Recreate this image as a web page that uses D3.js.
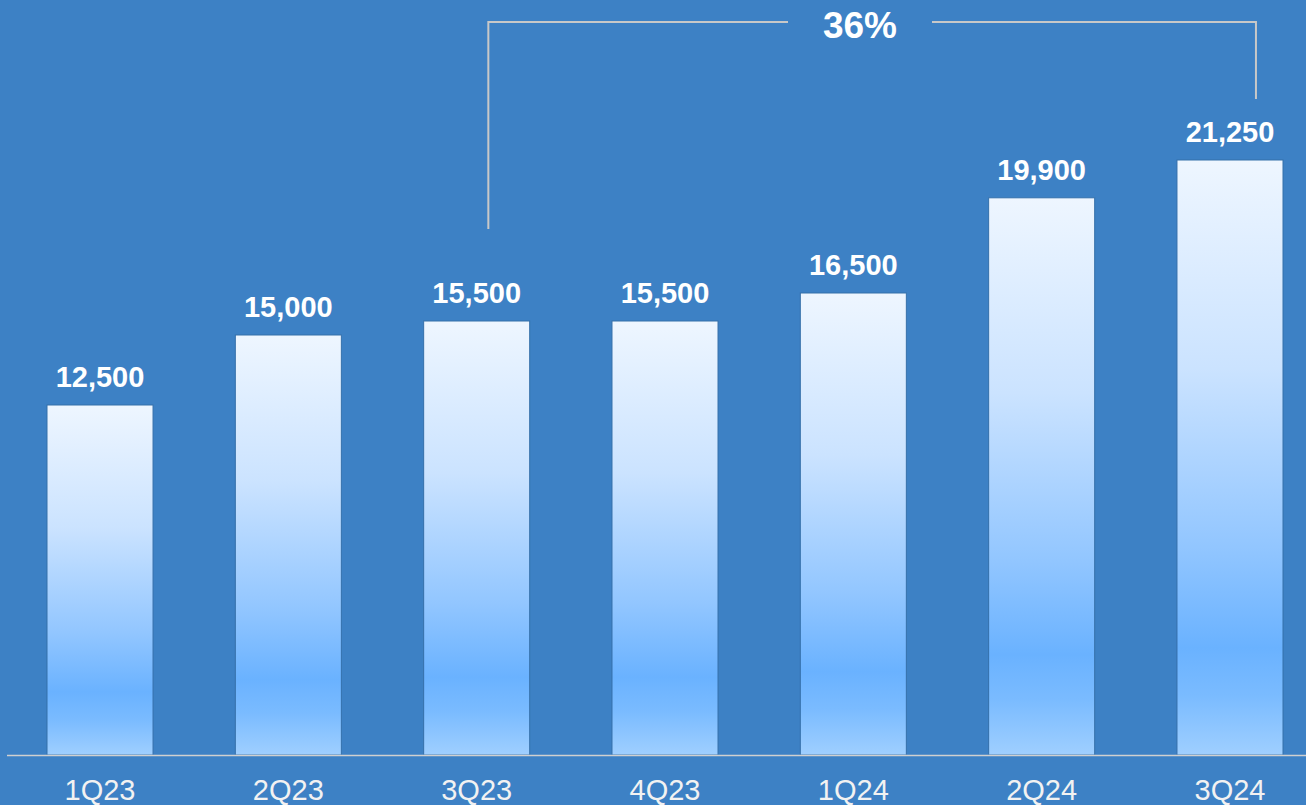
<!DOCTYPE html>
<html>
<head>
<meta charset="utf-8">
<script src="https://cdn.jsdelivr.net/npm/d3@7"></script>
<style>
  html, body { margin: 0; padding: 0; background: #3D81C5; }
  svg { display: block; }
</style>
</head>
<body>
<svg id="chart" width="1306" height="805"></svg>
<script>
// Quarterly values
const quarters = ["1Q23", "2Q23", "3Q23", "4Q23", "1Q24", "2Q24", "3Q24"];
const values = [12500, 15000, 15500, 15500, 16500, 19900, 21250];
const growthLabel = "36%";
const growthFrom = "3Q23";
const growthTo = "3Q24";

const W = 1306, H = 805;
const FONT = "Liberation Sans, Arial, sans-serif";
const svg = d3.select("#chart");

svg.append("rect").attr("width", W).attr("height", H).attr("fill", "#3D81C5");

const x = d3.scaleBand()
  .domain(quarters)
  .range([47, 1283])
  .paddingInner(0.437)
  .paddingOuter(0);

const y = d3.scaleLinear().domain([0, 25000]).range([755, 55]);

// Bar gradient
const defs = svg.append("defs");
const grad = defs.append("linearGradient")
  .attr("id", "barGrad")
  .attr("x1", 0).attr("y1", 0).attr("x2", 0).attr("y2", 1);
[
  [0, "#EEF6FF"],
  [0.35, "#CBE3FF"],
  [0.65, "#92C6FF"],
  [0.82, "#6AB2FF"],
  [0.9, "#7ABBFF"],
  [1, "#9FCFFF"]
].forEach(([o, c]) => grad.append("stop").attr("offset", o).attr("stop-color", c));

// Bars
svg.append("g").selectAll("rect")
  .data(quarters)
  .join("rect")
  .attr("x", q => x(q))
  .attr("y", (q, i) => y(values[i]))
  .attr("width", x.bandwidth())
  .attr("height", (q, i) => y(0) - y(values[i]))
  .attr("fill", "url(#barGrad)")
  .attr("stroke", "#3570AA")
  .attr("stroke-width", 1);

// Value labels
const fmt = d3.format(",");
svg.append("g").selectAll("text")
  .data(quarters)
  .join("text")
  .attr("x", q => x(q) + x.bandwidth() / 2)
  .attr("y", (q, i) => y(values[i]) - 18)
  .attr("text-anchor", "middle")
  .attr("font-family", FONT)
  .attr("font-weight", "bold")
  .attr("font-size", 29)
  .attr("fill", "#FFFFFF")
  .text((q, i) => fmt(values[i]));

// Category axis
const axis = d3.axisBottom(x).tickSize(0).tickPadding(0);
const gAxis = svg.append("g").attr("transform", `translate(0,${y(0)})`).call(axis);
gAxis.select(".domain").remove();
gAxis.selectAll("text")
  .attr("font-family", FONT)
  .attr("font-size", 29)
  .attr("fill", "#F2F2F2")
  .attr("dy", null)
  .attr("y", 45);
svg.append("line")
  .attr("x1", 7).attr("x2", W)
  .attr("y1", y(0) + 0.5).attr("y2", y(0) + 0.5)
  .attr("stroke", "#D0D0D0").attr("stroke-width", 1.5);

// Growth bracket
const iFrom = quarters.indexOf(growthFrom), iTo = quarters.indexOf(growthTo);
const bx1 = x(growthFrom) + x.bandwidth() * 0.61;
const bx2 = x(growthTo) + x.bandwidth() * 0.745;
const by = 22;
const by1 = y(values[iFrom]) - 92;
const by2 = y(values[iTo]) - 61;
const tx = 860;
const bracket = svg.append("g")
  .attr("fill", "none").attr("stroke", "#C8C8C8").attr("stroke-width", 2);
bracket.append("path").attr("d", `M${bx1},${by1}V${by}H${tx - 72}`);
bracket.append("path").attr("d", `M${tx + 72},${by}H${bx2}V${by2}`);
svg.append("text")
  .attr("x", tx).attr("y", 38)
  .attr("text-anchor", "middle")
  .attr("font-family", FONT)
  .attr("font-weight", "bold")
  .attr("font-size", 37)
  .attr("fill", "#FFFFFF")
  .text(growthLabel);
</script>
</body>
</html>
